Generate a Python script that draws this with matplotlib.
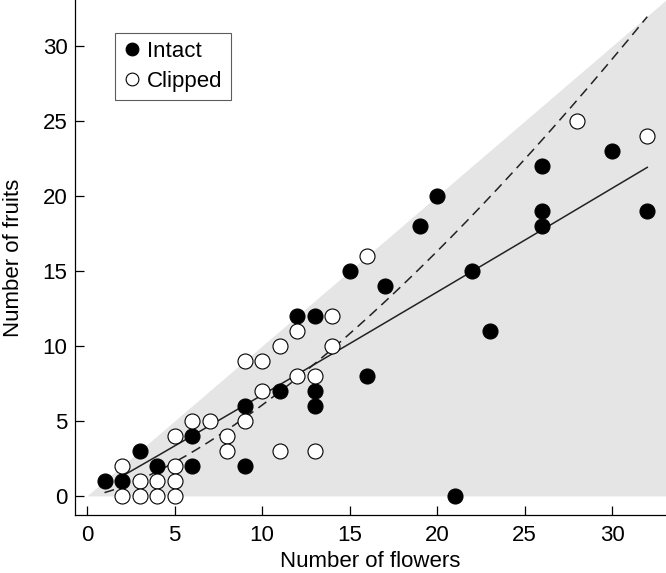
import numpy as np
import matplotlib.pyplot as plt

plt.rcParams['font.family'] = ['Liberation Sans', 'DejaVu Sans']

# 数据: (flowers, fruits)
intact_flowers = [1, 2, 3, 4, 6, 6, 9, 9, 11, 12, 13, 13, 13, 15, 16, 17,
                  19, 20, 21, 22, 23, 26, 26, 26, 30, 32]
intact_fruits = [1, 1, 3, 2, 4, 2, 6, 2, 7, 12, 12, 7, 6, 15, 8, 14,
                 18, 20, 0, 15, 11, 22, 19, 18, 23, 19]

clipped_flowers = [2, 2, 3, 3, 4, 4, 5, 5, 5, 5, 6, 7, 8, 8, 9, 9, 10, 10,
                   11, 11, 12, 12, 13, 13, 14, 14, 16, 28, 32]
clipped_fruits = [2, 0, 1, 0, 1, 0, 4, 2, 1, 0, 5, 5, 4, 3, 9, 5, 9, 7,
                  10, 3, 11, 8, 8, 3, 12, 10, 16, 25, 24]

# 拟合曲线 y = a * x^b
fit_intact = (0.65, 1.015, 2, 32)
fit_clipped = (0.225, 1.43, 1, 32)

fig = plt.figure(figsize=(6.66, 5.73), dpi=100)
ax = fig.add_axes([75 / 666, 58 / 573, 591 / 666, 515 / 573])

# 可行区域 (fruits <= flowers)
xr = np.array([0, 34])
ax.fill_between(xr, 0, xr, color='#e5e5e5', lw=0, zorder=0)

for (a, b, x0, x1), ls in [(fit_intact, '-'), (fit_clipped, (0, (6.5, 4)))]:
    xx = np.linspace(x0, x1, 200)
    ax.plot(xx, a * xx ** b, color='#222222', lw=1.1, ls=ls, zorder=2)

ax.plot(intact_flowers, intact_fruits, 'o', ms=10.8, mfc='black',
        mec='black', mew=0.8, label='Intact', zorder=3)
ax.plot(clipped_flowers, clipped_fruits, 'o', ms=10.8, mfc='white',
        mec='black', mew=0.8, label='Clipped', zorder=3)

ax.set_xlim(-0.685, 33.07)
ax.set_ylim(-1.27, 33.07)
ax.set_xticks([0, 5, 10, 15, 20, 25, 30])
ax.set_yticks([0, 5, 10, 15, 20, 25, 30])

for s in ['top', 'right']:
    ax.spines[s].set_visible(False)
for s in ['left', 'bottom']:
    ax.spines[s].set_linewidth(0.9)

ax.tick_params(direction='in', length=6.5, width=0.9, labelsize=16)
ax.tick_params(axis='x', pad=7)
ax.tick_params(axis='y', pad=5.5)
ax.set_xlabel('Number of flowers', fontsize=16, labelpad=4)
ax.set_ylabel('Number of fruits', fontsize=16, labelpad=13)

leg = ax.legend(loc='upper left', bbox_to_anchor=(0.0677, 0.935),
                borderaxespad=0, fontsize=16, frameon=True, fancybox=False,
                handlelength=0.85, handletextpad=0.25, borderpad=0.35,
                labelspacing=0.4, markerscale=0.85)
leg.get_frame().set_edgecolor('#333333')
leg.get_frame().set_linewidth(0.8)

plt.savefig('out.png', dpi=100)
